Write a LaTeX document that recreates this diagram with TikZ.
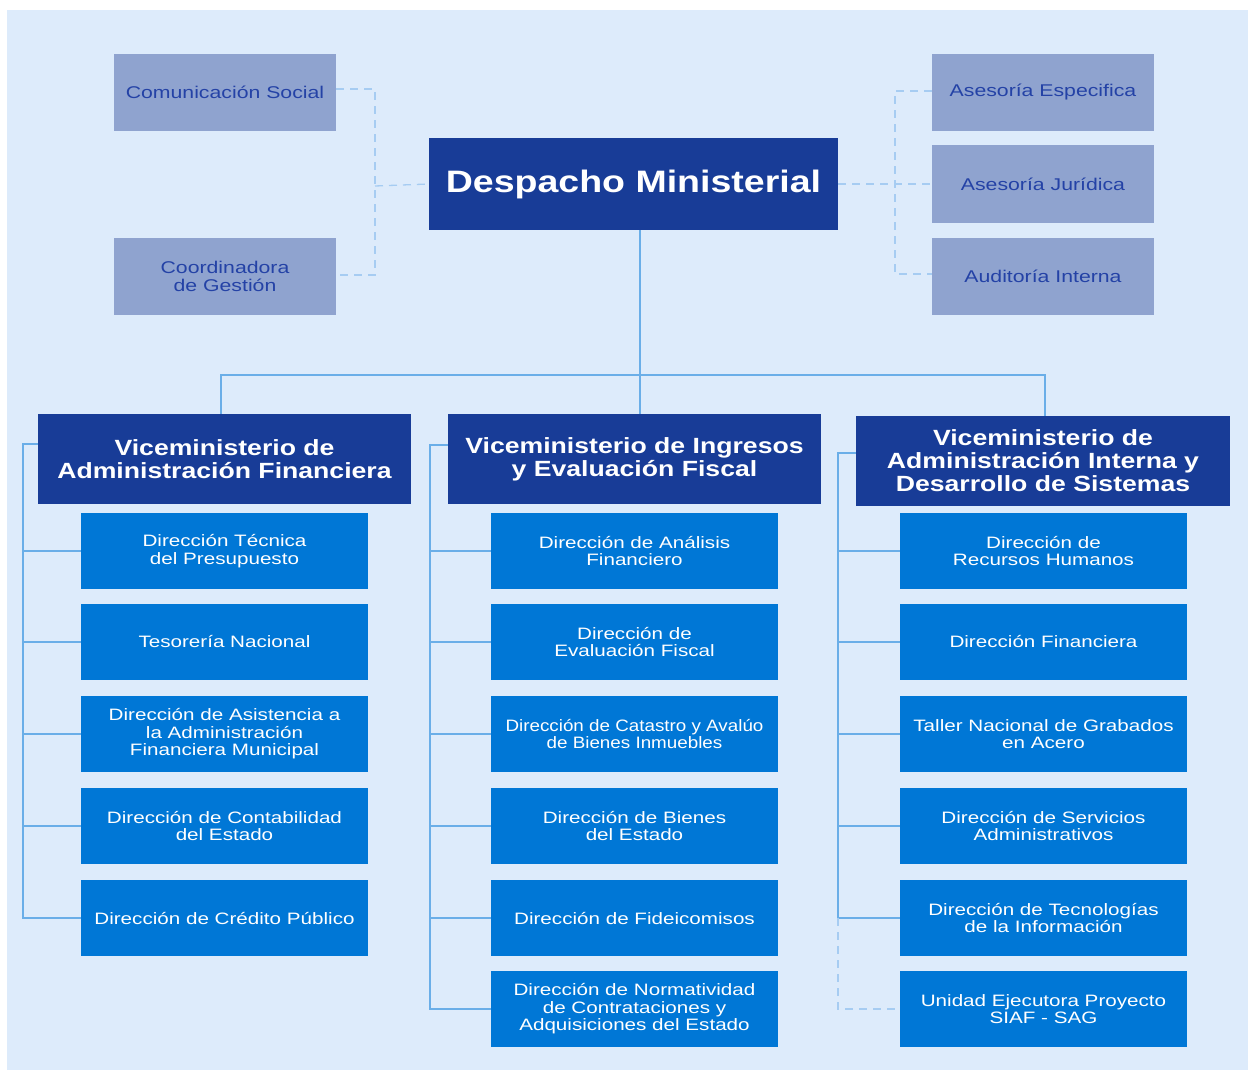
\documentclass[tikz,border=0pt]{standalone}
\usepackage{fontspec}
\setmainfont{Liberation Sans}
\newfontfamily\hfont[FakeStretch=1.21]{Liberation Sans}
\newfontfamily\wfont[FakeStretch=1.25]{Liberation Sans}
\newfontfamily\nfont[FakeStretch=1.14]{Liberation Sans}
\definecolor{bgc}{HTML}{DDEBFB}
\definecolor{darkc}{HTML}{183C97}
\definecolor{dirc}{HTML}{0077D6}
\definecolor{staffc}{HTML}{8FA3CF}
\definecolor{stafftxt}{HTML}{2442A6}
\definecolor{linec}{HTML}{6AAEE8}
\definecolor{dashc}{HTML}{A6CCF2}
\begin{document}
\begin{tikzpicture}[x=1pt,y=-1pt,
  staffbox/.style={fill=staffc,text=stafftxt,minimum width=222pt,minimum height=77pt,inner sep=0pt,align=center,font=\wfont\fontsize{17}{17.5}\selectfont},
  headbox/.style={fill=darkc,text=white,minimum width=409pt,minimum height=92pt,inner sep=0pt,align=center,font=\hfont\fontsize{31}{32}\selectfont\bfseries},
  vmbox/.style={fill=darkc,text=white,minimum width=373pt,minimum height=90pt,inner sep=0pt,align=center,font=\hfont\fontsize{22}{23}\selectfont\bfseries},
  dirbox/.style={fill=dirc,text=white,minimum width=287pt,minimum height=76pt,inner sep=0pt,align=center,font=\wfont\fontsize{16.5}{17.5}\selectfont},
  conn/.style={draw=linec,line width=1.6pt},
  dconn/.style={draw=dashc,line width=1.3pt,dash pattern=on 8pt off 6pt}
]
\useasboundingbox (0,0) rectangle (1248,1070);
\fill[bgc] (7,10) rectangle (1248,1070);

% staff
\node[staffbox] (cs) at (225,92.5) {Comunicación Social};
\node[staffbox] (cg) at (225,276.5) {Coordinadora\\de Gestión};
\node[staffbox] (ae) at (1043,92.5) {Asesoría Especifica};
\node[staffbox] (aj) at (1043,184) {Asesoría Jurídica};
\node[staffbox] (ai) at (1043,276.5) {Auditoría Interna};

\node[headbox] (dm) at (633.5,184) {Despacho Ministerial};

% vice ministries
\node[vmbox] (vm1) at (224.5,459) {Viceministerio de\\Administración Financiera};
\node[vmbox] (vm2) at (634.5,459) {Viceministerio de Ingresos\\y Evaluación Fiscal};
\node[vmbox,minimum width=374pt] (vm3) at (1043,461) {Viceministerio de\\Administración Interna y\\Desarrollo de Sistemas};

% column 1
\node[dirbox] (a1) at (224.5,551) {Dirección Técnica\\del Presupuesto};
\node[dirbox] (a2) at (224.5,642) {Tesorería Nacional};
\node[dirbox] (a3) at (224.5,734) {Dirección de Asistencia a\\la Administración\\Financiera Municipal};
\node[dirbox] (a4) at (224.5,826) {Dirección de Contabilidad\\del Estado};
\node[dirbox] (a5) at (224.5,918) {Dirección de Crédito Público};

% column 2
\node[dirbox] (b1) at (634.5,551) {Dirección de Análisis\\Financiero};
\node[dirbox] (b2) at (634.5,642) {Dirección de\\Evaluación Fiscal};
\node[dirbox,font=\nfont\fontsize{16.5}{17.5}\selectfont] (b3) at (634.5,734) {Dirección de Catastro y Avalúo\\de Bienes Inmuebles};
\node[dirbox] (b4) at (634.5,826) {Dirección de Bienes\\del Estado};
\node[dirbox] (b5) at (634.5,918) {Dirección de Fideicomisos};
\node[dirbox] (b6) at (634.5,1009) {Dirección de Normatividad\\de Contrataciones y\\Adquisiciones del Estado};

% column 3
\node[dirbox] (c1) at (1043.5,551) {Dirección de\\Recursos Humanos};
\node[dirbox] (c2) at (1043.5,642) {Dirección Financiera};
\node[dirbox] (c3) at (1043.5,734) {Taller Nacional de Grabados\\en Acero};
\node[dirbox] (c4) at (1043.5,826) {Dirección de Servicios\\Administrativos};
\node[dirbox] (c5) at (1043.5,918) {Dirección de Tecnologías\\de la Información};
\node[dirbox] (c6) at (1043.5,1009) {Unidad Ejecutora Proyecto\\SIAF - SAG};

% dashed staff connectors
\coordinate (sl) at (375,186);
\coordinate (sr) at (895,186);
\draw[dconn] (cs.east |- 0,89) -- (sl |- 0,89) -- (sl |- 0,275) -- (cg.east |- 0,275);
\draw[dconn] (sl) -- (dm.west);
\draw[dconn] (ae.west |- 0,91) -- (sr |- 0,91) -- (sr |- 0,274) -- (ai.west |- 0,274);
\draw[dconn] (dm.east) -- (aj.west);

% main tree
\coordinate (j) at (640,375);
\coordinate (j1) at (221,375);
\coordinate (j3) at (1045,375);
\draw[conn] (j |- dm.south) -- (j);
\draw[conn] (j1 |- vm1.north) -- (j1) -- (j3) -- (j3 |- vm3.north);
\draw[conn] (j) -- (j |- vm2.north);

% column trunks
\coordinate (t1) at (23,444);
\coordinate (t2) at (430,445);
\coordinate (t3) at (838,453);
\draw[conn] (vm1.west |- t1) -- (t1) -- (t1 |- a5.west) -- (a5.west);
\foreach \n in {a1,a2,a3,a4} \draw[conn] (t1 |- \n.west) -- (\n.west);
\draw[conn] (vm2.west |- t2) -- (t2) -- (t2 |- b6.west) -- (b6.west);
\foreach \n in {b1,b2,b3,b4,b5} \draw[conn] (t2 |- \n.west) -- (\n.west);
\draw[conn] (vm3.west |- t3) -- (t3) -- (t3 |- c5.west) -- (c5.west);
\foreach \n in {c1,c2,c3,c4} \draw[conn] (t3 |- \n.west) -- (\n.west);
\draw[dconn] (t3 |- c5.west) -- (t3 |- c6.west) -- (c6.west);
\end{tikzpicture}
\end{document}
